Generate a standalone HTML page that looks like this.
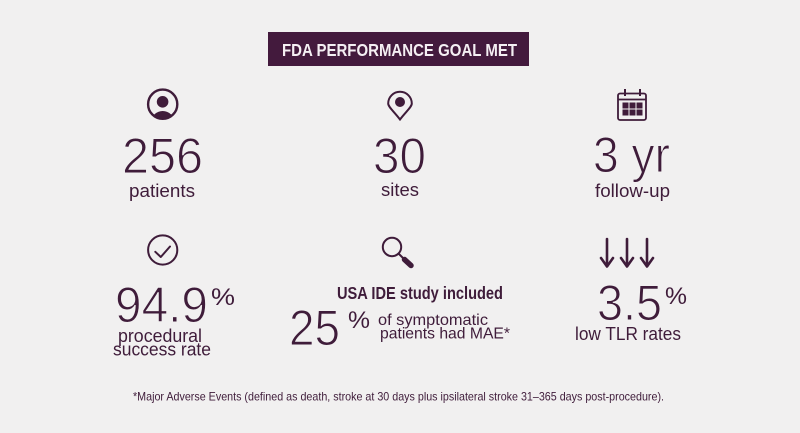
<!DOCTYPE html>
<html>
<head>
<meta charset="utf-8">
<style>
  html, body { margin: 0; padding: 0; background: #f1f0f0; }
  svg { display: block; }
  text { font-family: "Liberation Sans", sans-serif; fill: #3f1c3a; }
  .big { font-size: 50px; stroke: #f1f0f0; stroke-width: 1.1px; }
  .pct { font-size: 24px; }
  .lbl { font-size: 18px; }
</style>
</head>
<body>
<svg width="800" height="433" viewBox="0 0 800 433" xmlns="http://www.w3.org/2000/svg">
  <rect x="0" y="0" width="800" height="433" fill="#f1f0f0"/>

  <!-- Banner -->
  <rect x="268" y="32" width="261" height="34" fill="#431a3d"/>
  <text x="282" y="56" font-size="17.5" font-weight="bold" style="fill:#f4eff3" textLength="235" lengthAdjust="spacingAndGlyphs">FDA PERFORMANCE GOAL MET</text>

  <!-- Person icon -->
  <circle cx="162.7" cy="104.2" r="14.6" fill="none" stroke="#3f1c3a" stroke-width="2.4"/>
  <circle cx="162.6" cy="101.8" r="5.8" fill="#3f1c3a"/>
  <clipPath id="pc"><circle cx="162.7" cy="104.2" r="14"/></clipPath>
  <ellipse cx="162.7" cy="122" rx="11.5" ry="11" fill="#3f1c3a" clip-path="url(#pc)"/>

  <!-- Pin icon -->
  <path d="M400 119.5 C394 111.5 388.2 107 388.2 103.5 A11.8 11.8 0 0 1 411.8 103.5 C411.8 107 406 111.5 400 119.5 Z" fill="none" stroke="#3f1c3a" stroke-width="2"/>
  <circle cx="400" cy="102" r="5" fill="#3f1c3a"/>

  <!-- Calendar icon -->
  <g fill="none" stroke="#3f1c3a" stroke-width="1.8">
    <rect x="618" y="93.5" width="28" height="26.5" rx="2"/>
    <line x1="618" y1="99.5" x2="646" y2="99.5"/>
    <line x1="625" y1="89" x2="625" y2="96" stroke-width="2"/>
    <line x1="640" y1="89" x2="640" y2="96" stroke-width="2"/>
  </g>
  <g fill="#3f1c3a">
    <rect x="622.5" y="102.5" width="6" height="6"/>
    <rect x="629.5" y="102.5" width="6" height="6"/>
    <rect x="636.5" y="102.5" width="6" height="6"/>
    <rect x="622.5" y="109.5" width="6" height="6"/>
    <rect x="629.5" y="109.5" width="6" height="6"/>
    <rect x="636.5" y="109.5" width="6" height="6"/>
  </g>

  <!-- Top row numbers -->
  <text class="big" x="122" y="173" textLength="81" lengthAdjust="spacingAndGlyphs">256</text>
  <text class="lbl" x="129" y="197" textLength="66" lengthAdjust="spacingAndGlyphs">patients</text>

  <text class="big" x="373" y="173" textLength="53" lengthAdjust="spacingAndGlyphs">30</text>
  <text class="lbl" x="381" y="196" textLength="38" lengthAdjust="spacingAndGlyphs">sites</text>

  <text class="big" x="593" y="172" textLength="77" lengthAdjust="spacingAndGlyphs">3 yr</text>
  <text class="lbl" x="595" y="197" textLength="75" lengthAdjust="spacingAndGlyphs">follow-up</text>

  <!-- Check icon -->
  <circle cx="162.7" cy="250" r="14.6" fill="none" stroke="#3f1c3a" stroke-width="2"/>
  <path d="M155.3 251.8 L160.8 257 L170 246.5" fill="none" stroke="#3f1c3a" stroke-width="2" stroke-linecap="round" stroke-linejoin="round"/>

  <!-- Magnifier icon -->
  <circle cx="392" cy="247" r="9.2" fill="none" stroke="#3f1c3a" stroke-width="2"/>
  <line x1="398.5" y1="253.5" x2="403" y2="258" stroke="#3f1c3a" stroke-width="2"/>
  <line x1="404.5" y1="259.5" x2="411" y2="265.5" stroke="#3f1c3a" stroke-width="5.5" stroke-linecap="round"/>

  <!-- Arrows icon -->
  <g fill="none" stroke="#3f1c3a" stroke-width="2.6" stroke-linecap="round" stroke-linejoin="round">
    <line x1="607" y1="239" x2="607" y2="266"/>
    <path d="M601 258 L607 266.5 L613 258"/>
    <line x1="627" y1="239" x2="627" y2="266"/>
    <path d="M621 258 L627 266.5 L633 258"/>
    <line x1="647" y1="239" x2="647" y2="266"/>
    <path d="M641 258 L647 266.5 L653 258"/>
  </g>

  <!-- Bottom row -->
  <text class="big" x="115" y="322" font-size="49" textLength="93" lengthAdjust="spacingAndGlyphs">94.9</text>
  <text class="pct" x="211" y="305" textLength="24" lengthAdjust="spacingAndGlyphs">%</text>
  <text class="lbl" x="118" y="342" textLength="84" lengthAdjust="spacingAndGlyphs">procedural</text>
  <text class="lbl" x="113" y="355.5" textLength="98" lengthAdjust="spacingAndGlyphs">success rate</text>

  <text x="337" y="299" font-size="17.5" font-weight="bold" textLength="166" lengthAdjust="spacingAndGlyphs">USA IDE study included</text>
  <text class="big" x="289" y="345" textLength="51" lengthAdjust="spacingAndGlyphs">25</text>
  <text class="pct" x="348" y="328" font-size="25" textLength="22" lengthAdjust="spacingAndGlyphs">%</text>
  <text x="378" y="325" font-size="16" textLength="110" lengthAdjust="spacingAndGlyphs">of symptomatic</text>
  <text x="380" y="338.5" font-size="16" textLength="130" lengthAdjust="spacingAndGlyphs">patients had MAE*</text>

  <text class="big" x="597" y="320" font-size="49" textLength="65" lengthAdjust="spacingAndGlyphs">3.5</text>
  <text class="pct" x="665" y="304" font-size="23" textLength="22" lengthAdjust="spacingAndGlyphs">%</text>
  <text class="lbl" x="575" y="340" textLength="106" lengthAdjust="spacingAndGlyphs">low TLR rates</text>

  <!-- Footnote -->
  <text x="133" y="400.7" font-size="12" textLength="531" lengthAdjust="spacingAndGlyphs">*Major Adverse Events (defined as death, stroke at 30 days plus ipsilateral stroke 31–365 days post-procedure).</text>
</svg>
</body>
</html>
